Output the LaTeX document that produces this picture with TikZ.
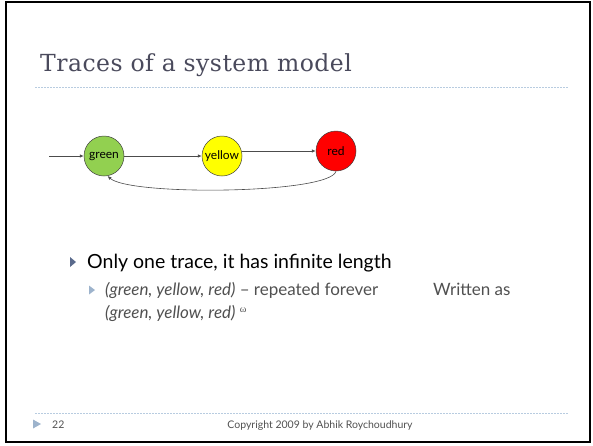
\documentclass[tikz,border=0pt]{standalone}
\usepackage{fontspec}
\setmainfont{Lato}
\newfontfamily\titlefont[LetterSpace=2]{DejaVu Serif}
\newfontfamily\omegafont{Liberation Serif}
\usetikzlibrary{arrows.meta}
\definecolor{titlegray}{HTML}{4A4A5C}
\definecolor{subgray}{HTML}{505050}
\definecolor{dotblue}{HTML}{B8CCE0}
\definecolor{bulletdark}{HTML}{5A6A8C}
\definecolor{bulletlight}{HTML}{9DB3CC}
\definecolor{stgreen}{HTML}{92D050}
\definecolor{styellow}{HTML}{FFFF00}
\definecolor{stred}{HTML}{FF0000}
\tikzset{
  state/.style={circle, draw=black!75, line width=0.5pt, minimum size=40pt, inner sep=0pt, font=\fontsize{12}{14}\selectfont},
  conn/.style={draw=black!70, line width=0.6pt, -{Latex[length=4pt,width=3.5pt]}},
  rule/.style={dotblue, line width=0.8pt, dash pattern=on 1.5pt off 1.5pt},
}
\begin{document}
\begin{tikzpicture}[x=1pt,y=-1pt]
\useasboundingbox (0,0) rectangle (593,445);
\draw[line width=2.5pt] (6,2) rectangle (590,442);
% title
\node[anchor=base west, inner sep=0pt, text=titlegray, font=\titlefont\fontsize{23.5}{26}\selectfont] (title) at (40,71) {Traces of a system model};
\draw[rule] (35,87) -- (568,87);
% states
\node[state, fill=stgreen] (g) at (104,156) {green};
\node[state, fill=styellow] (y) at (222,156) {yellow};
\node[state, fill=stred] (r) at (336,151) {red};
\coordinate (start) at (49,156);
\draw[conn] (start) -- (g);
\draw[conn] (g) -- (y);
\draw[conn] (y.east |- r) -- (r);
\draw[conn] (r.south) .. controls (330,194) and (130,196) .. (g.-80);
% bullets
\fill[bulletdark] (70,257) -- (76,262) -- (70,267) -- cycle;
\node[anchor=base west, inner sep=0pt, font=\fontsize{19.5}{23}\selectfont] (t1) at (87,268) {Only one trace, it has infinite length};
\fill[bulletlight] (89,285.5) -- (95,290) -- (89,294.5) -- cycle;
\node[anchor=base west, inner sep=0pt, text=subgray, font=\fontsize{17}{20}\selectfont] (t2) at (105,295) {\textit{(green, yellow, red)} -- repeated forever};
\node[anchor=base west, inner sep=0pt, text=subgray, font=\fontsize{17}{20}\selectfont] (t3) at (433,295) {Written as};
\node[anchor=base west, inner sep=0pt, text=subgray, font=\fontsize{17}{20}\selectfont] (t4) at (105,318) {\textit{(green, yellow, red)} {\omegafont\fontsize{10}{11}\selectfont\raisebox{6pt}{ω}}};
% footer
\draw[rule] (35,413) -- (568,413);
\fill[bulletlight] (33,419.5) -- (41,424) -- (33,428.5) -- cycle;
\node[anchor=base west, inner sep=0pt, text=subgray, font=\fontsize{10.5}{12}\selectfont] (num) at (52,428) {22};
\node[anchor=base, inner sep=0pt, text=subgray, font=\fontsize{10.5}{12}\selectfont] (copy) at (320,428) {Copyright 2009 by Abhik Roychoudhury};
\end{tikzpicture}
\end{document}
